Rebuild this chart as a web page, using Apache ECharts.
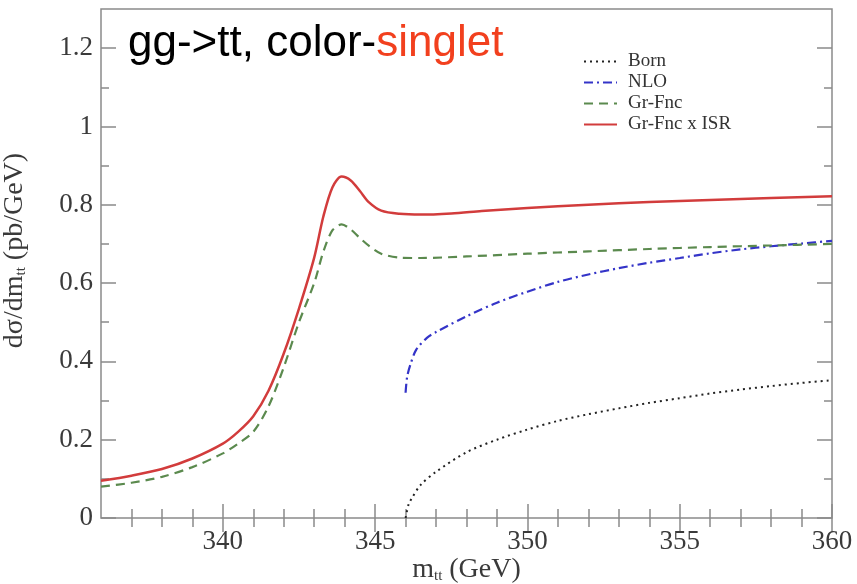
<!DOCTYPE html>
<html>
<head>
<meta charset="utf-8">
<script src="https://cdn.jsdelivr.net/npm/echarts@6/dist/echarts.min.js"></script>
<style>
  html, body { margin: 0; padding: 0; background: #fff; }
  #chart { width: 857px; height: 584px; }
</style>
</head>
<body>
<div id="chart"></div>
<script>
// m_tt grid (GeV) and cross sections (pb/GeV) for each curve
const bornM   = [346.0, 346.1, 346.2, 346.5, 347, 348, 349, 350, 351, 352, 353, 354, 355, 356, 357, 358, 359, 360];
const bornV   = [0, 0.035, 0.05, 0.085, 0.118, 0.168, 0.2, 0.226, 0.248, 0.265, 0.28, 0.294, 0.306, 0.318, 0.328, 0.337, 0.345, 0.352];

const nloM    = [346.0, 346.05, 346.15, 346.35, 346.7, 347, 348, 349, 350, 351, 352, 353, 354, 355, 356, 357, 358, 359, 360];
const nloV    = [0.32, 0.36, 0.39, 0.43, 0.46, 0.475, 0.515, 0.55, 0.578, 0.603, 0.622, 0.638, 0.652, 0.664, 0.676, 0.686, 0.694, 0.701, 0.708];

const grfM    = [336, 337, 338, 339, 340, 340.5, 341, 341.5, 342, 342.5, 343, 343.3, 343.6, 343.9, 344.2, 344.5, 344.8, 345.2, 345.8, 346.5, 348, 350, 352, 354, 356, 358, 360];
const grfV    = [0.08, 0.09, 0.105, 0.13, 0.165, 0.19, 0.22, 0.285, 0.385, 0.5, 0.6, 0.68, 0.735, 0.75, 0.737, 0.715, 0.695, 0.675, 0.665, 0.664, 0.668, 0.675, 0.681, 0.687, 0.692, 0.696, 0.70];

const isrM    = [336, 337, 338, 339, 340, 340.5, 341, 341.5, 342, 342.5, 343, 343.3, 343.6, 343.9, 344.2, 344.5, 344.8, 345.2, 345.8, 346.5, 347.5, 348.5, 350, 352, 354, 356, 358, 360];
const isrV    = [0.095, 0.108, 0.125, 0.152, 0.19, 0.22, 0.26, 0.325, 0.42, 0.535, 0.665, 0.77, 0.845, 0.872, 0.862, 0.835, 0.806, 0.785, 0.777, 0.775, 0.778, 0.784, 0.792, 0.8, 0.807, 0.812, 0.817, 0.822];

const seriesNames = ['Born', 'NLO', 'Gr-Fnc', 'Gr-Fnc x ISR'];

const xMajor = [340, 345, 350, 355, 360];
const xMinor = [337, 338, 339, 341, 342, 343, 344, 346, 347, 348, 349, 351, 352, 353, 354, 356, 357, 358, 359];
const yMajor = [0, 0.2, 0.4, 0.6, 0.8, 1, 1.2];
const yMinor = [0.1, 0.3, 0.5, 0.7, 0.9, 1.1];

const pairs = (xs, ys) => xs.map((x, i) => [x, ys[i]]);

const frame = '#8a8a8a';
const ink = '#3a3a3a';
const serif = '"Liberation Serif", "DejaVu Serif", serif';

function xAx(pos, ticks, len, labels) {
  return {
    type: 'value', position: pos, min: 336, max: 360,
    axisLine: { show: false },
    splitLine: { show: false },
    axisTick: { show: true, inside: true, length: len, customValues: ticks, lineStyle: { color: frame, width: 1.5 } },
    axisLabel: labels ? { show: true, customValues: ticks, margin: 10, fontFamily: serif, fontSize: 27, color: ink } : { show: false }
  };
}
function yAx(pos, ticks, len, labels) {
  return {
    type: 'value', position: pos, min: 0, max: 1.3,
    axisLine: { show: false },
    splitLine: { show: false },
    axisTick: { show: true, inside: true, length: len, customValues: ticks, lineStyle: { color: frame, width: 1.5 } },
    axisLabel: labels ? { show: true, customValues: ticks, margin: 8, fontFamily: serif, fontSize: 27, color: ink } : { show: false }
  };
}

const nameRich = {
  m: { fontFamily: serif, fontSize: 28, color: ink },
  sub: { fontFamily: serif, fontSize: 15, color: ink, padding: [14, 0, 0, 0] }
};

const xAxes = [xAx('bottom', xMajor, 14, true), xAx('bottom', xMinor, 9, false), xAx('top', xMajor, 14, false), xAx('top', xMinor, 9, false)];
xAxes[0].name = '{m|m}{sub|tt} {m|(GeV)}';
xAxes[0].nameLocation = 'middle';
xAxes[0].nameGap = 37;
xAxes[0].nameMoveOverlap = false;
xAxes[0].nameTextStyle = { fontFamily: serif, fontSize: 28, color: ink, rich: nameRich };

const yAxes = [yAx('left', yMajor, 15, true), yAx('left', yMinor, 8, false), yAx('right', yMajor, 15, false), yAx('right', yMinor, 8, false)];
yAxes[0].name = '{m|dσ/dm}{sub|tt} {m|(pb/GeV)}';
yAxes[0].nameLocation = 'middle';
yAxes[0].nameRotate = 90;
yAxes[0].nameGap = 72;
yAxes[0].nameMoveOverlap = false;
yAxes[0].nameTextStyle = { fontFamily: serif, fontSize: 28, color: ink, rich: nameRich, padding: [0, 0, 0, 26] };

const option = {
  backgroundColor: '#fff',
  animation: false,
  grid: { left: 101, right: 25, top: 9, bottom: 66, show: true, borderColor: frame, borderWidth: 1.5, backgroundColor: 'transparent', outerBoundsMode: 'none', containLabel: false },
  xAxis: xAxes,
  yAxis: yAxes,
  legend: {
    orient: 'vertical', left: 578, top: 47,
    itemWidth: 33, itemHeight: 14, itemGap: 2,
    itemStyle: { opacity: 0, borderWidth: 0 },
    textStyle: { fontFamily: serif, fontSize: 19, color: '#333', padding: [0, 0, 0, 6] },
    data: seriesNames
  },
  graphic: [{
    type: 'text', left: 128, top: 22,
    style: {
      text: '{k|gg->tt, color-}{r|singlet}',
      rich: {
        k: { fontFamily: '"Liberation Sans", Arial, sans-serif', fontSize: 44, fill: '#000' },
        r: { fontFamily: '"Liberation Sans", Arial, sans-serif', fontSize: 44, fill: '#f2401e' }
      }
    }
  }],
  series: [
    { name: seriesNames[0], type: 'line', showSymbol: false, symbol: 'none', smooth: 0.3, data: pairs(bornM, bornV),
      lineStyle: { color: '#222', width: 2, type: [2, 4] }, itemStyle: { color: '#222' } },
    { name: seriesNames[1], type: 'line', showSymbol: false, symbol: 'none', smooth: 0.3, data: pairs(nloM, nloV),
      lineStyle: { color: '#3434c8', width: 2.2, type: [9, 4, 2, 4] }, itemStyle: { color: '#3434c8' } },
    { name: seriesNames[2], type: 'line', showSymbol: false, symbol: 'none', smooth: 0.3, data: pairs(grfM, grfV),
      lineStyle: { color: '#5b8a4e', width: 2.2, type: [9, 6] }, itemStyle: { color: '#5b8a4e' } },
    { name: seriesNames[3], type: 'line', showSymbol: false, symbol: 'none', smooth: 0.3, data: pairs(isrM, isrV),
      lineStyle: { color: '#d23c3c', width: 2.5 }, itemStyle: { color: '#d23c3c' } }
  ]
};

const chart = echarts.init(document.getElementById('chart'), null, { renderer: 'canvas' });
chart.setOption(option);
</script>
</body>
</html>
